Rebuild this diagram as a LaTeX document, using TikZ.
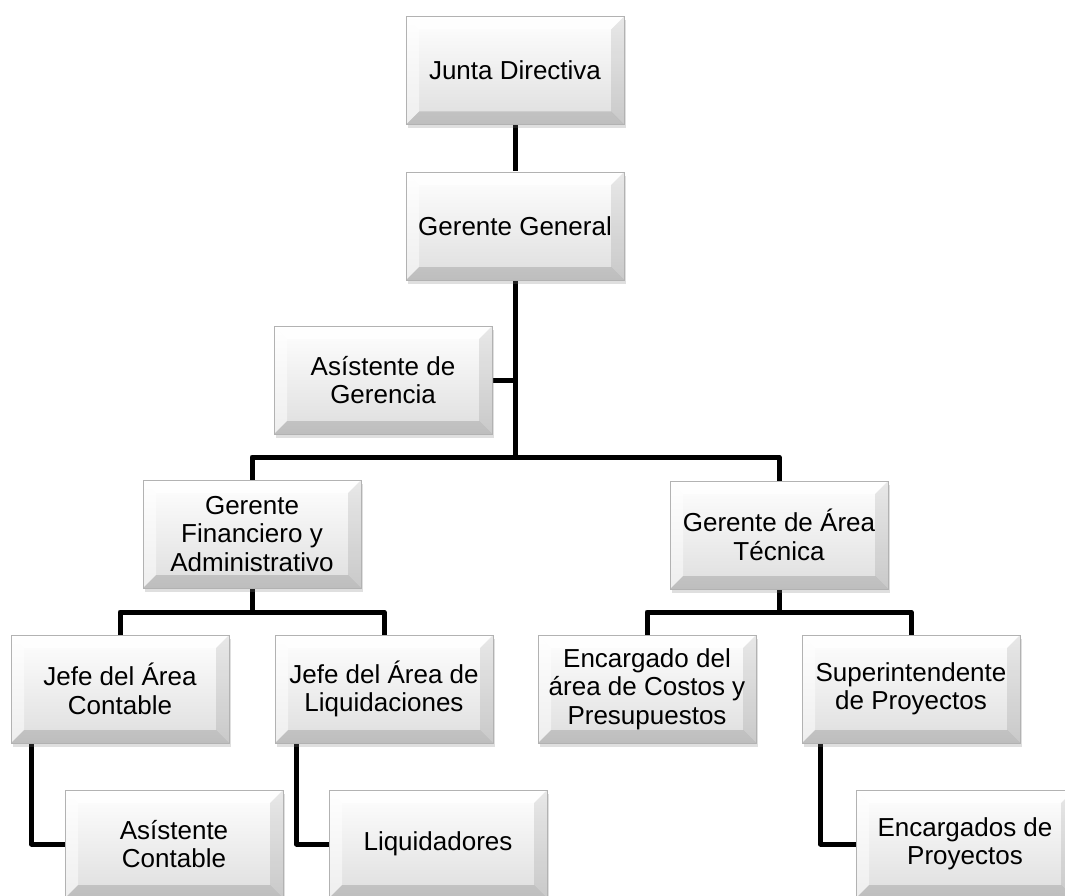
\documentclass[tikz,border=0pt]{standalone}
\usepackage{fontspec}
\setmainfont{Liberation Sans}
\usetikzlibrary{shadows,backgrounds}
\tikzset{
  orgbox/.style={rectangle, minimum width=218pt, minimum height=108pt,
    inner sep=0pt, align=center, font=\fontsize{26}{28.5}\selectfont,
    draw=black!30, line width=0.8pt, top color=white, bottom color=black!13,
    drop shadow={shadow xshift=1.5pt, shadow yshift=-4pt, opacity=0.25},
    path picture={
      \path (path picture bounding box.north west) coordinate (pA)
            (path picture bounding box.north east) coordinate (pB)
            (path picture bounding box.south east) coordinate (pC)
            (path picture bounding box.south west) coordinate (pD);
      \fill[white,opacity=0.85] (pA) -- (pB) -- ([shift={(-13pt,-13pt)}]pB) -- ([shift={(13pt,-13pt)}]pA) -- cycle;
      \fill[white,opacity=0.5] (pA) -- ([shift={(13pt,-13pt)}]pA) -- ([shift={(13pt,13pt)}]pD) -- (pD) -- cycle;
      \fill[black,opacity=0.09] (pB) -- (pC) -- ([shift={(-13pt,13pt)}]pC) -- ([shift={(-13pt,-13pt)}]pB) -- cycle;
      \fill[black,opacity=0.14] (pD) -- (pC) -- ([shift={(-13pt,13pt)}]pC) -- ([shift={(13pt,13pt)}]pD) -- cycle;
    }},
  link/.style={line width=5pt, line join=round, black}
}
\begin{document}
\begin{tikzpicture}[x=1pt,y=1pt]
\useasboundingbox (0,0) rectangle (1065,-896);
\node[orgbox] (jd) at (515,-70.5) {Junta Directiva};
\node[orgbox] (gg) at (515,-226) {Gerente General};
\node[orgbox] (ag) at (383,-380) {Asístente de\\Gerencia};
\node[orgbox] (gf) at (252,-534) {Gerente\\Financiero y\\Administrativo};
\node[orgbox] (gt) at (779,-535) {Gerente de Área\\Técnica};
\node[orgbox] (jc) at (120,-689) {Jefe del Área\\Contable};
\node[orgbox] (jl) at (384,-689) {Jefe del Área de\\Liquidaciones};
\node[orgbox] (ec) at (647,-689) {Encargado del\\área de Costos y\\Presupuestos};
\node[orgbox] (sp) at (911,-689) {Superintendente\\de Proyectos};
\node[orgbox] (ac) at (174,-844) {Asístente\\Contable};
\node[orgbox] (lq) at (438,-844) {Liquidadores};
\node[orgbox] (ep) at (965,-844) {Encargados de\\Proyectos};
\begin{scope}[on background layer]
\coordinate (b1) at (515,-457);
\coordinate (b2) at (0,-612);
\draw[link] (jd.south) -- (gg.north);
\draw[link] (gg.south) -- (b1);
\draw[link] (ag.east) -- (ag.east -| b1);
\draw[link] (gf.north) -- (gf.north |- b1) -- (gt.north |- b1) -- (gt.north);
\draw[link] (gf.south) -- (gf.south |- b2);
\draw[link] (jc.north) -- (jc.north |- b2) -- (jl.north |- b2) -- (jl.north);
\draw[link] (gt.south) -- (gt.south |- b2);
\draw[link] (ec.north) -- (ec.north |- b2) -- (sp.north |- b2) -- (sp.north);
\draw[link] ([xshift=21pt]jc.south west) |- (ac.west);
\draw[link] ([xshift=22pt]jl.south west) |- (lq.west);
\draw[link] ([xshift=19pt]sp.south west) |- (ep.west);
\end{scope}
\end{tikzpicture}
\end{document}
